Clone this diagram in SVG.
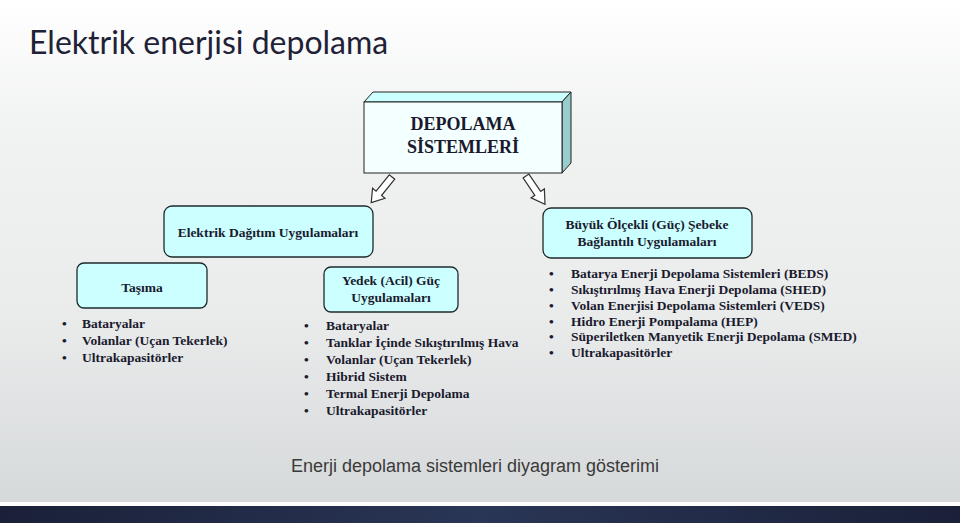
<svg xmlns="http://www.w3.org/2000/svg" width="960" height="523" viewBox="0 0 960 523">
<defs>
<linearGradient id="bg" x1="0" y1="0" x2="0" y2="1">
<stop offset="0" stop-color="#ffffff"/>
<stop offset="0.25" stop-color="#f1f2f2"/>
<stop offset="0.6" stop-color="#eaecec"/>
<stop offset="1" stop-color="#d4d7d8"/>
</linearGradient>
<linearGradient id="band" x1="0" y1="0" x2="1" y2="0">
<stop offset="0" stop-color="#1a2038"/>
<stop offset="0.5" stop-color="#2a3656"/>
<stop offset="1" stop-color="#1a2038"/>
</linearGradient>
<style>
.box{fill:#ccffff;stroke:#1e2a2a;stroke-width:1.3}
.t{font-family:"Liberation Serif","Times New Roman",serif;font-weight:bold;font-size:13.5px;fill:#1a1a2e}
.big{font-size:18px}
.c{text-anchor:middle}
.arrow{fill:#ffffff;stroke:#333333;stroke-width:1.2;stroke-linejoin:miter}
</style>
</defs>
<rect x="0" y="0" width="960" height="523" fill="url(#bg)"/>
<rect x="0" y="502" width="960" height="4" fill="#ffffff"/>
<rect x="0" y="506" width="960" height="17" fill="url(#band)"/>
<text x="29" y="54" font-family="Lato, 'Open Sans', sans-serif" font-size="32" fill="#1f2236">Elektrik enerjisi depolama</text>

<g id="depolama">
<polygon points="364,102 373,92 571,92 562,102" fill="#ccffff" stroke="#222" stroke-width="1"/>
<polygon points="562,102 571,92 571,163 562,173" fill="#99cccc" stroke="#222" stroke-width="1"/>
<rect x="364" y="102" width="198" height="71" fill="#f4ffff" stroke="#222" stroke-width="1"/>
<text class="t c big" x="463" y="130">DEPOLAMA</text>
<text class="t c big" x="463" y="153">SİSTEMLERİ</text>
</g>

<g id="connectors">
<polygon class="arrow" transform="translate(392,177) rotate(129)" points="0,-3.5 21,-3.5 21,-8 33,0 21,8 21,3.5 0,3.5"/>
<polygon class="arrow" transform="translate(526,176) rotate(56)" points="0,-3.5 21,-3.5 21,-8 34,0 21,8 21,3.5 0,3.5"/>
</g>

<g id="elektrik">
<rect class="box" x="164" y="206" width="209" height="51" rx="8"/>
<text class="t c" x="268" y="237">Elektrik Dağıtım Uygulamaları</text>
</g>

<g id="buyuk">
<rect class="box" x="543" y="208" width="209" height="50" rx="8"/>
<text class="t c" x="647" y="229">Büyük Ölçekli (Güç) Şebeke</text>
<text class="t c" x="647" y="246">Bağlantılı Uygulamaları</text>
</g>

<g id="tasima">
<rect class="box" x="77" y="263" width="130" height="45" rx="7"/>
<text class="t c" x="142" y="292">Taşıma</text>
<text class="t" x="62" y="328">•</text><text class="t" x="82" y="328">Bataryalar</text>
<text class="t" x="62" y="345">•</text><text class="t" x="82" y="345">Volanlar (Uçan Tekerlek)</text>
<text class="t" x="62" y="362">•</text><text class="t" x="82" y="362">Ultrakapasitörler</text>
</g>

<g id="yedek">
<rect class="box" x="324" y="267" width="134" height="45" rx="7"/>
<text class="t c" x="391" y="285">Yedek (Acil) Güç</text>
<text class="t c" x="391" y="302">Uygulamaları</text>
<text class="t" x="304" y="330">•</text><text class="t" x="326" y="330">Bataryalar</text>
<text class="t" x="304" y="347">•</text><text class="t" x="326" y="347">Tanklar İçinde Sıkıştırılmış Hava</text>
<text class="t" x="304" y="364">•</text><text class="t" x="326" y="364">Volanlar (Uçan Tekerlek)</text>
<text class="t" x="304" y="381">•</text><text class="t" x="326" y="381">Hibrid Sistem</text>
<text class="t" x="304" y="398">•</text><text class="t" x="326" y="398">Termal Enerji Depolama</text>
<text class="t" x="304" y="415">•</text><text class="t" x="326" y="415">Ultrakapasitörler</text>
</g>

<g id="buyuk-list">
<text class="t" x="549" y="278">•</text><text class="t" x="571" y="278">Batarya Enerji Depolama Sistemleri (BEDS)</text>
<text class="t" x="549" y="294">•</text><text class="t" x="571" y="294">Sıkıştırılmış Hava Enerji Depolama (SHED)</text>
<text class="t" x="549" y="310">•</text><text class="t" x="571" y="310">Volan Enerjisi Depolama Sistemleri (VEDS)</text>
<text class="t" x="549" y="326">•</text><text class="t" x="571" y="326">Hidro Enerji Pompalama (HEP)</text>
<text class="t" x="549" y="341">•</text><text class="t" x="571" y="341">Süperiletken Manyetik Enerji Depolama (SMED)</text>
<text class="t" x="549" y="357">•</text><text class="t" x="571" y="357">Ultrakapasitörler</text>
</g>

<text x="475" y="472" text-anchor="middle" font-family="'Liberation Sans', Arial, sans-serif" font-size="18" fill="#3a3a3a">Enerji depolama sistemleri diyagram gösterimi</text>
</svg>
